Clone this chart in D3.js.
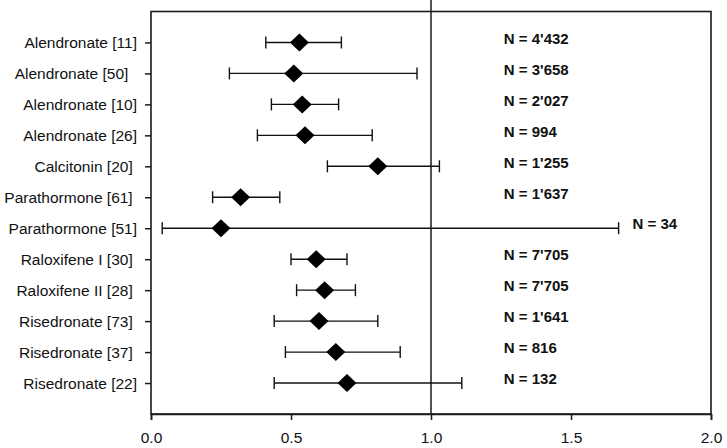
<!DOCTYPE html>
<html>
<head>
<meta charset="utf-8">
<script src="https://cdn.jsdelivr.net/npm/d3@7/dist/d3.min.js"></script>
<style>
  html, body { margin: 0; padding: 0; background: #fff; }
  svg { display: block; }
  text { font-family: "Liberation Sans", Arial, sans-serif; fill: #111; }
</style>
</head>
<body>
<svg id="chart" width="727" height="448"></svg>
<script>
// ---- data ----
const studies = [
  "Alendronate [11]", "Alendronate [50]  ", "Alendronate [10]", "Alendronate [26]",
  "Calcitonin [20] ", "Parathormone [61] ", "Parathormone [51]", "Raloxifene I [30] ",
  "Raloxifene II [28] ", "Risedronate [73] ", "Risedronate [37] ", "Risedronate [22]"
];
const estimate = [0.53, 0.51, 0.54, 0.55, 0.81, 0.32, 0.25, 0.59, 0.62, 0.60, 0.66, 0.70];
const lower    = [0.41, 0.28, 0.43, 0.38, 0.63, 0.22, 0.04, 0.50, 0.52, 0.44, 0.48, 0.44];
const upper    = [0.68, 0.95, 0.67, 0.79, 1.03, 0.46, 1.67, 0.70, 0.73, 0.81, 0.89, 1.11];
const sampleN  = ["N = 4'432", "N = 3'658", "N = 2'027", "N = 994", "N = 1'255", "N = 1'637",
                  "N = 34", "N = 7'705", "N = 7'705", "N = 1'641", "N = 816", "N = 132"];
const xTicks   = [0, 0.5, 1.0, 1.5, 2.0];
const refValue = 1.0;
const nColumnValue = 1.26;

// ---- layout ----
const svg = d3.select("#chart");
const mLeft = 151, mRight = 711, mTop = 11.5, mBottom = 414;
const fontFam = "'Liberation Sans', Arial, sans-serif";

const x = d3.scaleLinear().domain([0, 2]).range([mLeft, mRight]);
const y = d3.scalePoint().domain(studies).range([mTop, mBottom]).padding(1);

const rows = studies.map((s, i) => ({
  study: s, est: estimate[i], lo: lower[i], hi: upper[i], n: sampleN[i]
}));

// frame
svg.append("rect")
  .attr("x", mLeft).attr("y", mTop)
  .attr("width", mRight - mLeft).attr("height", mBottom - mTop)
  .attr("fill", "none").attr("stroke", "#1a1a1a").attr("stroke-width", 1.6);

// reference line at 1.0 (extends above the frame)
svg.append("line")
  .attr("x1", x(refValue)).attr("x2", x(refValue))
  .attr("y1", 0).attr("y2", mBottom)
  .attr("stroke", "#1a1a1a").attr("stroke-width", 1.5);

// x axis
const xAxis = svg.append("g")
  .attr("transform", `translate(0,${mBottom})`)
  .call(d3.axisBottom(x).tickValues(xTicks).tickFormat(d3.format(".1f"))
        .tickSize(6).tickPadding(12));
xAxis.select(".domain").attr("stroke", "#1a1a1a").attr("stroke-width", 1.6);
xAxis.selectAll(".tick line").attr("stroke", "#1a1a1a").attr("stroke-width", 1.5);
xAxis.selectAll(".tick text").style("font-size", "15.5px")
  .style("font-family", fontFam).attr("fill", "#111");

// y axis
const yAxis = svg.append("g")
  .attr("transform", `translate(${mLeft},0)`)
  .call(d3.axisLeft(y).tickSize(6).tickPadding(8));
yAxis.select(".domain").remove();
yAxis.selectAll(".tick line").attr("stroke", "#1a1a1a").attr("stroke-width", 1.5);
yAxis.selectAll(".tick text").style("font-size", "15.5px").style("white-space", "pre")
  .style("font-family", fontFam).attr("fill", "#111");

// error bars
const g = svg.append("g");
const capH = 6;
const bars = g.selectAll("g.row").data(rows).join("g").attr("class", "row");
bars.append("line")
  .attr("x1", d => x(d.lo)).attr("x2", d => x(d.hi))
  .attr("y1", d => y(d.study)).attr("y2", d => y(d.study))
  .attr("stroke", "#111").attr("stroke-width", 1.4);
bars.append("line")
  .attr("x1", d => x(d.lo)).attr("x2", d => x(d.lo))
  .attr("y1", d => y(d.study) - capH).attr("y2", d => y(d.study) + capH)
  .attr("stroke", "#111").attr("stroke-width", 1.4);
bars.append("line")
  .attr("x1", d => x(d.hi)).attr("x2", d => x(d.hi))
  .attr("y1", d => y(d.study) - capH).attr("y2", d => y(d.study) + capH)
  .attr("stroke", "#111").attr("stroke-width", 1.4);

// diamonds
const dw = 9.5, dh = 9;
bars.append("path")
  .attr("d", d => {
    const cx = x(d.est), cy = y(d.study);
    return `M${cx - dw},${cy}L${cx},${cy - dh}L${cx + dw},${cy}L${cx},${cy + dh}Z`;
  })
  .attr("fill", "#000");

// N labels
bars.append("text")
  .attr("x", d => d.hi > nColumnValue - 0.1 ? x(d.hi) + 14 : x(nColumnValue))
  .attr("y", d => y(d.study) - 4)
  .attr("dy", "0.35em")
  .style("font-size", "15px").style("font-weight", "bold")
  .style("font-family", fontFam)
  .text(d => d.n);
</script>
</body>
</html>
